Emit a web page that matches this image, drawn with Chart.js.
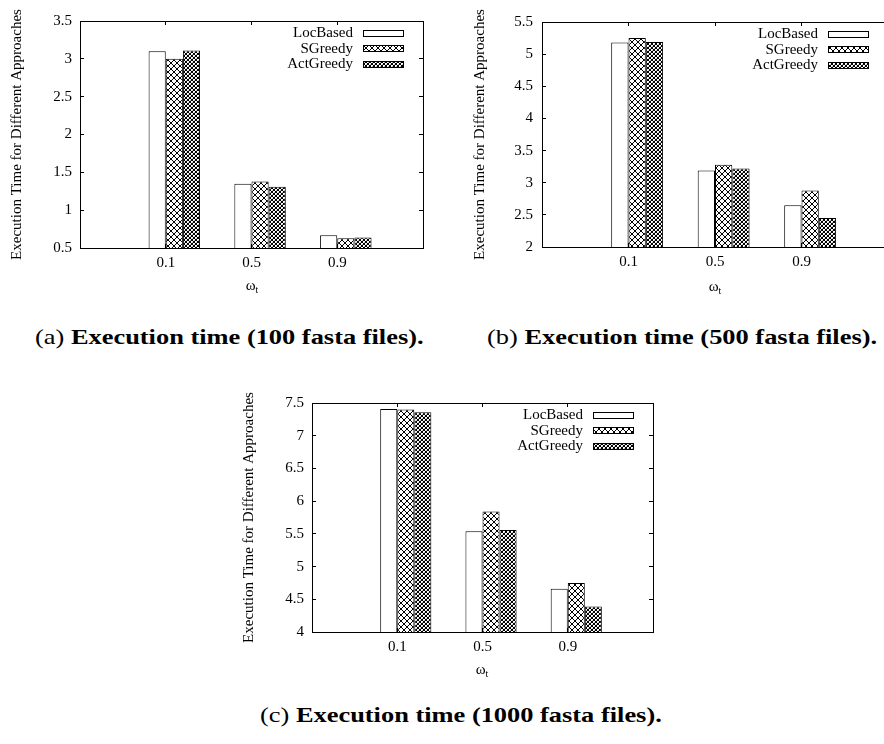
<!DOCTYPE html>
<html>
<head>
<meta charset="utf-8">
<script src="https://cdn.jsdelivr.net/npm/chart.js@4.4.1/dist/chart.umd.min.js"></script>
<style>
  html, body { margin: 0; padding: 0; background: #fff; overflow: hidden; width: 884px; height: 744px; }
  canvas { position: absolute; }
  .xt { position: absolute; font-family: "Liberation Serif", serif; font-size: 15px; line-height: 15px; transform: translateX(-50%); white-space: nowrap; }
  .xt sub { font-size: 10px; vertical-align: -3px; line-height: 0; }
  .cap { position: absolute; font-family: "Liberation Serif", serif; font-size: 22px; line-height: 22px; white-space: nowrap; transform: scaleX(1.2); transform-origin: 0 0; }
</style>
</head>
<body>
<canvas id="chartA" width="440" height="300" style="left:0;top:0"></canvas>
<canvas id="chartB" width="460" height="300" style="left:440px;top:0"></canvas>
<canvas id="chartC" width="440" height="320" style="left:230px;top:360px"></canvas>

<div class="xt" style="left:252px;top:278px">ω<sub>t</sub></div>
<div class="xt" style="left:715px;top:279px">ω<sub>t</sub></div>
<div class="xt" style="left:482px;top:662px">ω<sub>t</sub></div>

<div class="cap" style="left:35px;top:326px">(a) <b>Execution time (100 fasta files).</b></div>
<div class="cap" style="left:487px;top:326px">(b) <b>Execution time (500 fasta files).</b></div>
<div class="cap" style="left:260px;top:704px">(c) <b>Execution time (1000 fasta files).</b></div>

<script>
// categories (omega_t) and series
const omegas = ["0.1", "0.5", "0.9"];
const seriesNames = ["LocBased", "SGreedy", "ActGreedy"];

// (a) 100 fasta files
const locBased100 = [3.10, 1.35, 0.67];
const sGreedy100 = [3.00, 1.38, 0.63];
const actGreedy100 = [3.11, 1.31, 0.64];
const yRange100 = [0.5, 3.5];

// (b) 500 fasta files
const locBased500 = [5.18, 3.19, 2.65];
const sGreedy500 = [5.25, 3.28, 2.88];
const actGreedy500 = [5.19, 3.22, 2.45];
const yRange500 = [2, 5.5];

// (c) 1000 fasta files
const locBased1000 = [7.41, 5.54, 4.66];
const sGreedy1000 = [7.40, 5.84, 4.75];
const actGreedy1000 = [7.36, 5.56, 4.39];
const yRange1000 = [4, 7.5];

const yStep = 0.5;
const yTitle = "Execution Time for Different Approaches";

const serif = "'Liberation Serif', 'Times New Roman', serif";
const groupShift = 0.1; // gnuplot draws the clusters a little right of the tic

// fill patterns like gnuplot's
function makePattern(size, isInk) {
  const c = document.createElement("canvas");
  c.width = size;
  c.height = size;
  const g = c.getContext("2d");
  g.fillStyle = "#fff";
  g.fillRect(0, 0, size, size);
  for (let y = 0; y < size; y++) {
    for (let x = 0; x < size; x++) {
      const v = isInk(x, y);
      if (v) {
        g.fillStyle = v;
        g.fillRect(x, y, 1, 1);
      }
    }
  }
  return g.createPattern(c, "repeat");
}

const fills = [
  "#ffffff",
  makePattern(6, (x, y) => (x === y || x + y === 5 ? "#000" : null)),
  makePattern(4, (x, y) => (x === y || x + y === 3 ? "#000" : (x === 0 && y === 2) || (x === 2 && y === 0) ? "#bbb" : null)),
];

// legend drawn inside the plot, text right aligned with swatch on its right
const insideLegend = {
  id: "insideLegend",
  afterDatasetsDraw(chart) {
    const { ctx, chartArea } = chart;
    const boxW = 41, boxH = 7;
    const boxRight = chartArea.right - 19;
    ctx.save();
    ctx.font = "15px " + serif;
    ctx.textAlign = "right";
    ctx.textBaseline = "middle";
    chart.data.datasets.forEach((ds, k) => {
      const y = chartArea.top + 12.5 + k * 15.3;
      ctx.fillStyle = "#000";
      ctx.fillText(ds.label, boxRight - boxW - 10, y);
      ctx.fillStyle = ds.backgroundColor;
      ctx.fillRect(boxRight - boxW, Math.round(y - boxH / 2), boxW, boxH);
      ctx.strokeStyle = "#000";
      ctx.lineWidth = 1;
      ctx.strokeRect(boxRight - boxW + 0.5, Math.round(y - boxH / 2) + 0.5, boxW - 1, boxH - 1);
    });
    ctx.restore();
  },
};

function omegaTicks(scale) {
  scale.ticks = omegas.map((_, i) => ({ value: i }));
}

function buildChart(id, loc, sg, act, yRange, box) {
  const canvas = document.getElementById(id);
  const datasets = [loc, sg, act].map((vals, k) => ({
    label: seriesNames[k],
    data: vals.map((v, i) => ({ x: i + groupShift, y: v })),
    backgroundColor: fills[k],
    borderColor: "#000",
    borderWidth: 1,
    categoryPercentage: 0.6,
    barPercentage: 1.0,
  }));

  const grid = { drawOnChartArea: false, tickLength: -4, color: "#000", offset: false };
  const border = { display: true, color: "#000", width: 1 };
  const font = { family: serif, size: 15 };

  new Chart(canvas.getContext("2d"), {
    type: "bar",
    data: { datasets },
    options: {
      responsive: false,
      animation: false,
      layout: {
        padding: { left: 0, top: box.top, right: canvas.width - box.right, bottom: 0 },
      },
      plugins: { legend: { display: false }, tooltip: { enabled: false } },
      scales: {
        x: {
          type: "linear", position: "bottom", min: -1, max: 3, offset: false,
          afterBuildTicks: omegaTicks,
          ticks: { callback: (v, i) => omegas[i], font, color: "#000", padding: 10, maxRotation: 0, autoSkip: false },
          grid, border,
          afterFit: (s) => { s.height = canvas.height - box.bottom; },
        },
        xTop: {
          type: "linear", position: "top", min: -1, max: 3, offset: false,
          afterBuildTicks: omegaTicks,
          ticks: { display: false },
          grid, border,
          afterFit: (s) => { s.height = 0; },
        },
        y: {
          type: "linear", position: "left", min: yRange[0], max: yRange[1],
          ticks: { stepSize: yStep, callback: (v) => String(v), font, color: "#000", padding: box.tickPad },
          grid, border,
          title: { display: true, text: yTitle, font, color: "#000", padding: { top: box.titlePad, bottom: 0 } },
          afterFit: (s) => { s.width = box.left; },
        },
        yRight: {
          type: "linear", position: "right", min: yRange[0], max: yRange[1],
          ticks: { display: false, stepSize: yStep },
          grid, border,
          afterFit: (s) => { s.width = 0; },
        },
      },
    },
    plugins: [insideLegend],
  });
}

buildChart("chartA", locBased100, sGreedy100, actGreedy100, yRange100,
  { left: 80, right: 423, top: 19, bottom: 248, tickPad: 12, titlePad: 8.5 });
buildChart("chartB", locBased500, sGreedy500, actGreedy500, yRange500,
  { left: 102, right: 448, top: 19, bottom: 247, tickPad: 13, titlePad: 31 });
buildChart("chartC", locBased1000, sGreedy1000, actGreedy1000, yRange1000,
  { left: 82, right: 423, top: 43, bottom: 272, tickPad: 12, titlePad: 10 });
</script>
</body>
</html>
